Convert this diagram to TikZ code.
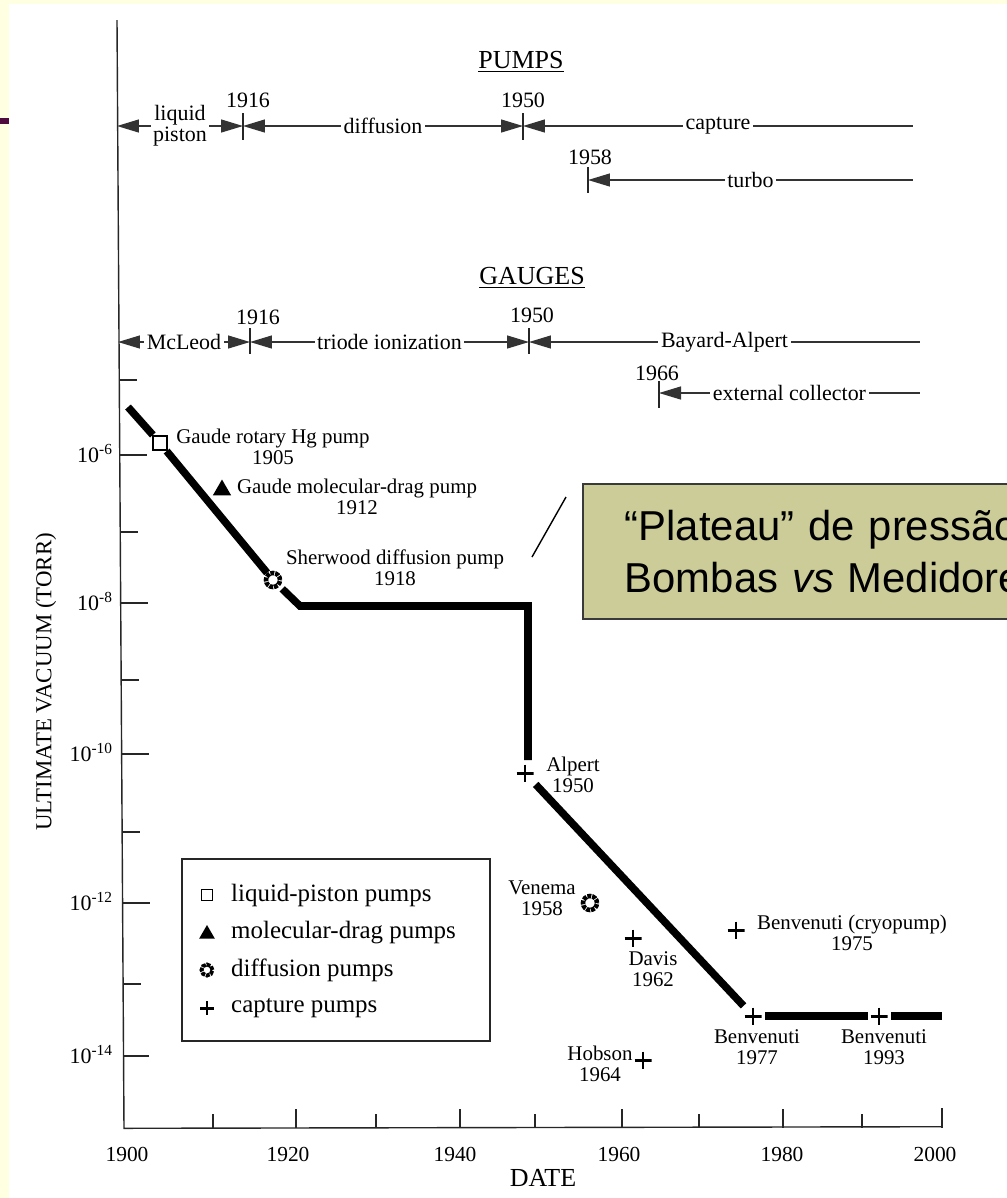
\documentclass[tikz,border=0pt]{standalone}
\usepackage{fontspec}
\setmainfont{Liberation Serif}
\setsansfont{Liberation Sans}
\usepackage{tikz}
\usetikzlibrary{arrows.meta,positioning,shapes.geometric}
\definecolor{slidecream}{HTML}{FFFFE1}
\definecolor{slideplum}{HTML}{4F0B3D}
\definecolor{calloutkhaki}{HTML}{CCCC99}
\definecolor{calloutedge}{HTML}{3A3A3A}

\begin{document}
\begin{tikzpicture}[x=0.02cm,y=-0.02cm,
  >={Triangle[length=0.44cm,width=0.26cm]},
  axisline/.style={line width=0.8pt, black!85},
  span/.style={line width=0.75pt, draw=black!80, <->},
  spanopen/.style={line width=0.75pt, draw=black!80, <-},
  spanlbl/.style={fill=white, text=black, inner sep=1.5pt, font=\fontsize{12.5}{12.5}\selectfont},
  yearlbl/.style={font=\fontsize{12.5}{13}\selectfont},
  headlbl/.style={font=\fontsize{14.8}{15}\selectfont},
  ticklbl/.style={font=\fontsize{12.2}{13}\selectfont},
  datalbl/.style={align=center, inner sep=0pt, font=\fontsize{11.9}{12}\selectfont},
  legendlbl/.style={anchor=west, font=\fontsize{14.2}{15}\selectfont},
  vacuum/.style={line width=4.3pt},
  liqmark/.style={draw, fill=white, line width=1.2pt, minimum size=0.28cm, inner sep=0pt},
  dragmark/.style={regular polygon, regular polygon sides=3, fill=black, minimum size=0.42cm, inner sep=0pt},
  diffmark/.style={circle, draw, line width=2.6pt, minimum size=0.28cm, inner sep=0pt, dash pattern=on 2.2pt off 0.55pt},
  capmark/.style={minimum size=0.34cm, inner sep=0pt,
    path picture={\draw[line width=1.7pt] (path picture bounding box.west) -- (path picture bounding box.east)
      (path picture bounding box.north) -- (path picture bounding box.south);}},
  callout/.style={draw=calloutedge, fill=calloutkhaki, line width=0.9pt, align=left,
    font=\sffamily\fontsize{23.8}{29.5}\selectfont, text width=9.2cm, inner xsep=0.84cm, minimum height=2.7cm}]
  \useasboundingbox (0,0) rectangle (1007,1198);
  \clip (0,0) rectangle (1007,1198);
  \fill[slidecream] (0,0) rectangle (1007,1198);
  \fill[slideplum] (0,118) rectangle (9,124);
  \fill[white] (9,4) rectangle (1007,1198);

  % axes
  \draw[axisline] (117,20) -- (124,1128.3) -- (942,1126.7);
  \foreach \yy/\len in {380/18,455/27,532/18,603/27,680/18,754/27,832/18,903/27,984/18,1056/25}
    \draw[axisline] ({117+0.0063*(\yy-20)},\yy) -- ++(\len,0);
  \foreach \xx/\len in {213/14,296/19,376/14,460/19,535/14,622/19,699/14,783/19,862/14,942/20}
    \draw[axisline] (\xx,1127.5) -- ++(0,-\len);
  \foreach \yy/\ex in {455/6,603/8,754/10,903/12,1056/14}
    \node[anchor=base east, font=\fontsize{12.5}{13}\selectfont, inner sep=1pt] at (115,\yy+7) {10\textsuperscript{-\ex}};
  \foreach \xx/\yr in {127/1900,288/1920,455/1940,619/1960,782/1980,935/2000}
    \node[ticklbl] at (\xx,1154) {\yr};
  \node[headlbl] (datettl) at (543,1178) {DATE};
  \node[rotate=90, font=\fontsize{13}{13}\selectfont] (vacttl) at (46,682) {ULTIMATE VACUUM (TORR)};

  % pump eras
  \node[headlbl] (pumpttl) at (521,62) {\underline{PUMPS}};
  \coordinate (pA) at (117,126);
  \coordinate (p16) at (243,126);
  \coordinate (p50) at (523,126);
  \coordinate (pEnd) at (913,126);
  \coordinate (t58) at (588,180);
  \coordinate (tEnd) at (913,180);
  \draw[axisline] (243,113) -- (243,140) (523,113) -- (523,140) (588,167) -- (588,193);
  \draw[span] (pA) -- node[spanlbl, align=center, font=\fontsize{12.5}{12}\selectfont] {liquid\\piston} (p16);
  \draw[span] (p16) -- node[spanlbl] {diffusion} (p50);
  \draw[spanopen] (p50) -- node[spanlbl] {capture} (pEnd);
  \draw[spanopen] (t58) -- node[spanlbl] {turbo} (tEnd);
  \node[yearlbl] at (248,100) {1916};
  \node[yearlbl] at (523,100) {1950};
  \node[yearlbl] at (590,157) {1958};

  % gauge eras
  \node[headlbl] (gaugettl) at (532,278) {\underline{GAUGES}};
  \coordinate (gA) at (118,342);
  \coordinate (g16) at (250,342);
  \coordinate (g50) at (529,342);
  \coordinate (gEnd) at (920,342);
  \coordinate (g66) at (659,393);
  \coordinate (gEnd2) at (920,393);
  \draw[axisline] (250,328) -- (250,354) (529,328) -- (529,354) (659,381) -- (659,408);
  \draw[span] (gA) -- node[spanlbl] {McLeod} (g16);
  \draw[span] (g16) -- node[spanlbl] {triode ionization} (g50);
  \draw[spanopen] (g50) -- node[spanlbl] {Bayard-Alpert} (gEnd);
  \draw[spanopen] (g66) -- node[spanlbl] {external collector} (gEnd2);
  \node[yearlbl] at (258,317) {1916};
  \node[yearlbl] at (532,315) {1950};
  \node[yearlbl] at (657,373) {1966};

  % record pumps
  \node[liqmark] (gaude05) at (160,443) {};
  \node[dragmark] (gaude12) at (222,490) {};
  \node[diffmark] (sherwood18) at (273,580) {};
  \node[capmark] (alpert50) at (525,773) {};
  \node[diffmark] (venema58) at (590,903) {};
  \node[capmark] (davis62) at (633,938) {};
  \node[capmark] (hobson64) at (643,1060) {};
  \node[capmark] (cryo75) at (736,930) {};
  \node[capmark] (benv77) at (753,1016) {};
  \node[capmark] (benv93) at (879,1016) {};
  \coordinate (vstart) at (128,407);
  \coordinate (vknee) at (300,606);
  \coordinate (vledge) at (528,606);
  \coordinate (vdrop) at (528,760);
  \coordinate (vend) at (942,1016);
  \draw[vacuum] (vstart) -- (gaude05);
  \draw[vacuum] (gaude05) -- (sherwood18);
  \draw[vacuum, shorten <=2pt] (sherwood18) -- (vknee) -- (vledge) -- (vdrop);
  \draw[vacuum, shorten <=2pt, shorten >=1pt] (alpert50) -- (benv77);
  \draw[vacuum, shorten <=2pt, shorten >=1pt] (benv77) -- (benv93);
  \draw[vacuum, shorten <=2pt] (benv93) -- (vend);

  \node[datalbl] (rotarylbl) at (273,447) {Gaude rotary Hg pump\\1905};
  \node[datalbl] (draglbl) at (357,497) {Gaude molecular-drag pump\\1912};
  \node[datalbl] (sherwoodlbl) at (395,568) {Sherwood diffusion pump\\1918};
  \node[datalbl] (alpertlbl) at (573,775) {Alpert\\1950};
  \node[datalbl] (venemalbl) at (542,898) {Venema\\1958};
  \node[datalbl] (davislbl) at (653,969) {Davis\\1962};
  \node[datalbl] (cryolbl) at (852,933) {Benvenuti (cryopump)\\1975};
  \node[datalbl] (hobsonlbl) at (600,1064) {Hobson\\1964};
  \node[datalbl] (benv77lbl) at (757,1047) {Benvenuti\\1977};
  \node[datalbl] (benv93lbl) at (884,1047) {Benvenuti\\1993};

  % legend
  \draw[axisline] (182,859) rectangle (490,1041);
  \node[liqmark, minimum size=0.22cm, line width=1pt] (keyliq) at (207,895) {};
  \node[dragmark, minimum size=0.36cm] (keydrag) at (207,934) {};
  \node[diffmark, minimum size=0.22cm, line width=2.2pt] (keydiff) at (207,970) {};
  \node[capmark, minimum size=0.28cm] (keycap) at (207,1008) {};
  \node[legendlbl] at (225,895) {liquid-piston pumps};
  \node[legendlbl] at (225,933) {molecular-drag pumps};
  \node[legendlbl] at (225,970) {diffusion pumps};
  \node[legendlbl] at (225,1008) {capture pumps};

  % plateau note
  \node[callout, anchor=north west] (plateau) at (582,483) {“Plateau” de pressão\\Bombas \textit{vs} Medidores};
  \coordinate (slashlo) at (532,557);
  \coordinate (slashhi) at (566,497);
  \draw[line width=0.8pt] (slashlo) -- (slashhi);
\end{tikzpicture}
\end{document}
